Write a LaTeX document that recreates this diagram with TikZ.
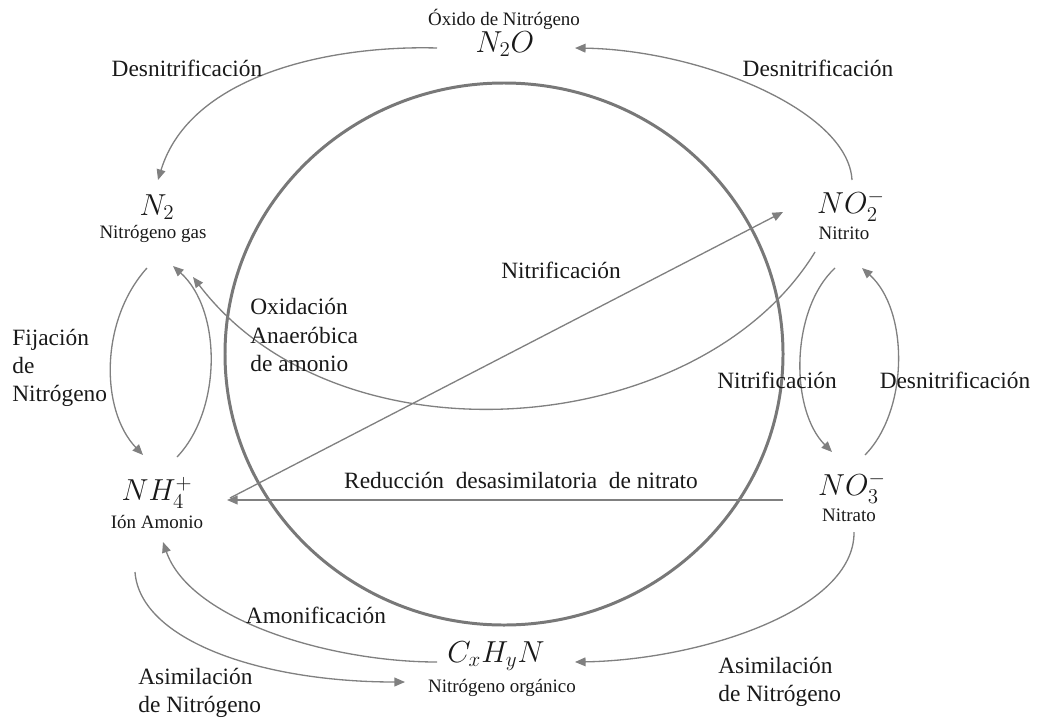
\documentclass[tikz,border=0pt]{standalone}
\usepackage{fontspec}
\setmainfont{Liberation Serif}
\usetikzlibrary{arrows.meta}
\definecolor{arrgray}{RGB}{128,128,128}
\definecolor{circgray}{RGB}{120,120,120}
\definecolor{txt}{RGB}{25,25,25}
\begin{document}
\begin{tikzpicture}[x=0.02cm,y=-0.02cm,
  flow/.style={draw=arrgray,line width=0.75pt,-{Triangle[length=6pt,width=5pt]}},
  lbl/.style={text=txt,font=\fontsize{13.3}{16}\selectfont,inner sep=0pt},
  lbll/.style={lbl,align=left,anchor=west},
  chem/.style={text=txt,font=\fontsize{16.5}{18}\selectfont,inner sep=0pt},
  sub/.style={text=txt,font=\fontsize{10.8}{12}\selectfont,inner sep=0pt}]
\useasboundingbox (0,0) rectangle (1040,720);
% central circle
\draw[circgray,line width=1.7pt] (504,354) ellipse [x radius=279, y radius=271];
% species
\node[chem] (n2o) at (505,44) {$N_2O$};
\node[sub] (n2olab) at (504,19) {Óxido de Nitrógeno};
\node[chem] (n2) at (157,207) {$N_2$};
\node[sub] (n2lab) at (153,234) {Nitrógeno gas};
\node[chem] (no2) at (851,206) {$NO_2^-$};
\node[sub] (no2lab) at (844,233) {Nitrito};
\node[chem] (no3) at (852,488) {$NO_3^-$};
\node[sub] (no3lab) at (849,515) {Nitrato};
\node[chem] (nh4) at (157,493) {$NH_4^+$};
\node[sub] (nh4lab) at (157,522) {Ión Amonio};
\node[chem] (org) at (496,656) {$C_xH_yN$};
\node[sub] (orglab) at (502,688) {Nitrógeno orgánico};
% connector end points
\coordinate (a1s) at (437,48);  \coordinate (a1e) at (158,180);
\coordinate (a2s) at (852,180); \coordinate (a2e) at (575,48);
\coordinate (a3s) at (147,268); \coordinate (a3e) at (143,455);
\coordinate (a4s) at (177,457); \coordinate (a4e) at (173,266);
\coordinate (a5s) at (815,252); \coordinate (a5e) at (193,277);
\coordinate (a6s) at (230,498); \coordinate (a6e) at (783,212);
\coordinate (a7s) at (783,500); \coordinate (a7e) at (227,500);
\coordinate (a8s) at (835,268); \coordinate (a8e) at (832,452);
\coordinate (a9s) at (865,455); \coordinate (a9e) at (862,268);
\coordinate (a10s) at (854,532); \coordinate (a10e) at (575,662);
\coordinate (a11s) at (437,662); \coordinate (a11e) at (163,542);
\coordinate (a12s) at (135,572); \coordinate (a12e) at (405,682);
% connectors
\draw[flow] (a1s) .. controls (330,45) and (190,75) .. (a1e);
\draw[flow] (a2s) .. controls (848,110) and (700,50) .. (a2e);
\draw[flow] (a3s) .. controls (100,320) and (100,410) .. (a3e);
\draw[flow] (a4s) .. controls (222,410) and (222,310) .. (a4e);
\draw[flow] (a5s) .. controls (700,440) and (340,470) .. (a5e);
\draw[flow] (a6s) -- (a6e);
\draw[flow] (a7s) -- (a7e);
\draw[flow] (a8s) .. controls (790,310) and (790,410) .. (a8e);
\draw[flow] (a9s) .. controls (909,410) and (909,310) .. (a9e);
\draw[flow] (a10s) .. controls (855,610) and (700,660) .. (a10e);
\draw[flow] (a11s) .. controls (330,662) and (190,620) .. (a11e);
\draw[flow] (a12s) .. controls (140,640) and (260,682) .. (a12e);
% process labels
\node[lbl] (l1) at (187,68) {Desnitrificación};
\node[lbl] (l2) at (818,68) {Desnitrificación};
\node[lbll] (l3) at (12,368) {Fijación\\de\\Nitrógeno};
\node[lbll] (l4) at (250,335) {Oxidación\\Anaeróbica\\de amonio};
\node[lbl] (l5) at (561,270) {Nitrificación};
\node[lbl] (l6) at (777,380) {Nitrificación};
\node[lbl] (l7) at (955,380) {Desnitrificación};
\node[lbl] (l8) at (521,480) {Reducción\ \ desasimilatoria\ \ de nitrato};
\node[lbl] (l9) at (316,615) {Amonificación};
\node[lbll] (l10) at (138,693) {Asimilación\\de Nitrógeno};
\node[lbll] (l11) at (718,682) {Asimilación\\de Nitrógeno};
\end{tikzpicture}
\end{document}
